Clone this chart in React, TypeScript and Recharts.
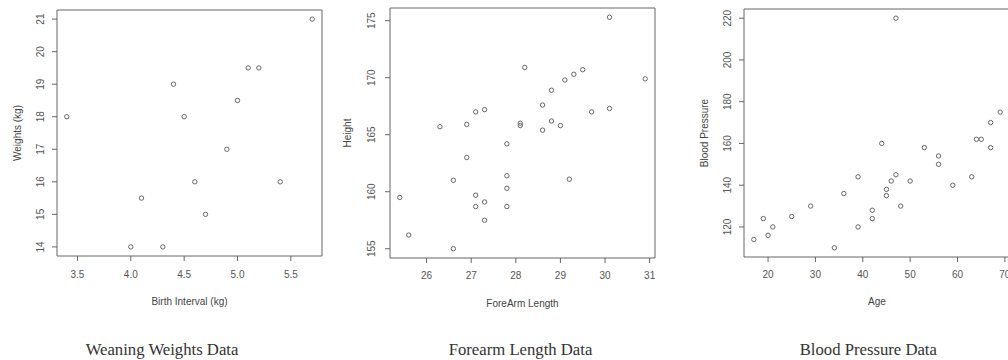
import React from 'react';
import { ScatterChart, Scatter, XAxis, YAxis, ReferenceArea } from 'recharts';

// ---------- Weaning weights ----------
const weaningBirthInterval = [3.4, 4.0, 4.1, 4.3, 4.4, 4.5, 4.6, 4.7, 4.9, 5.0, 5.1, 5.2, 5.4, 5.7];
const weaningWeights = [18, 14, 15.5, 14, 19, 18, 16, 15, 17, 18.5, 19.5, 19.5, 16, 21];
const weaningXTicks = [3.5, 4.0, 4.5, 5.0, 5.5];
const weaningYTicks = [14, 15, 16, 17, 18, 19, 20, 21];

// ---------- Forearm length ----------
const forearmLength = [30.1, 30.9, 28.2, 29.5, 29.3, 29.1, 28.8, 28.6, 27.1, 27.3, 29.7, 30.1, 26.3, 26.9, 28.1, 28.1, 28.8, 29.0, 28.6, 27.8, 26.9, 26.6, 27.8, 29.2, 27.8, 25.4, 27.1, 27.3, 27.1, 27.8, 27.3, 25.6, 26.6];
const forearmHeight = [175.3, 169.9, 170.9, 170.7, 170.3, 169.8, 168.9, 167.6, 167.0, 167.2, 167.0, 167.3, 165.7, 165.9, 165.8, 166.0, 166.2, 165.8, 165.4, 164.2, 163.0, 161.0, 161.4, 161.1, 160.3, 159.5, 159.7, 159.1, 158.7, 158.7, 157.5, 156.2, 155.0];
const forearmXTicks = [26, 27, 28, 29, 30, 31];
const forearmYTicks = [155, 160, 165, 170, 175];

// ---------- Blood pressure ----------
const bpAge = [39, 47, 45, 47, 65, 46, 67, 42, 67, 56, 64, 56, 59, 34, 42, 48, 45, 17, 20, 19, 36, 50, 39, 21, 44, 53, 63, 29, 25, 69];
const bpPressure = [144, 220, 138, 145, 162, 142, 170, 124, 158, 154, 162, 150, 140, 110, 128, 130, 135, 114, 116, 124, 136, 142, 120, 120, 160, 158, 144, 130, 125, 175];
const bpXTicks = [20, 30, 40, 50, 60, 70];
const bpYTicks = [120, 140, 160, 180, 200, 220];

const panelTitles = ['Weaning Weights Data', 'Forearm Length Data', 'Blood Pressure Data'];

const padded = (v: number[]): [number, number] => {
  const lo = Math.min(...v);
  const hi = Math.max(...v);
  const r = hi - lo;
  return [lo - 0.04 * r, hi + 0.04 * r];
};

const zip = (xs: number[], ys: number[]) => xs.map((x, i) => ({ x, y: ys[i] }));

const INK = '#666';
const TEXT = '#555';

const RotTick = (props: any) => {
  const { x, y, payload } = props;
  return (
    <text
      x={x}
      y={y}
      transform={`rotate(-90 ${x} ${y})`}
      textAnchor="middle"
      fontSize={10}
      fill={TEXT}
    >
      {payload.value}
    </text>
  );
};

const OpenCircle = (props: any) => {
  const { cx, cy } = props;
  if (cx == null || cy == null) return null;
  return <circle cx={cx} cy={cy} r={2.2} fill="none" stroke={INK} strokeWidth={1} />;
};

type PanelProps = {
  xs: number[];
  ys: number[];
  xTicks: number[];
  yTicks: number[];
  xLabel: string;
  yLabel: string;
  xFmt?: (v: number) => string;
  left: number;
  width: number;
  mTop: number;
  mRight: number;
  yAxisWidth: number;
  xAxisHeight: number;
  yTickMargin: number;
  xTickMargin: number;
  yLabelOffset: number;
  xLabelOffset: number;
};

const Panel = (p: PanelProps) => {
  const data = zip(p.xs, p.ys);
  const xd = padded(p.xs);
  const yd = padded(p.ys);
  return (
    <div style={{ position: 'absolute', left: p.left, top: 0 }}>
      <ScatterChart
        width={p.width}
        height={320}
        margin={{ top: p.mTop, right: p.mRight, bottom: 0, left: 0 }}
      >
        <XAxis
          type="number"
          dataKey="x"
          domain={xd}
          ticks={p.xTicks}
          interval={0}
          axisLine={false}
          tickLine={{ stroke: INK }}
          tickSize={5}
          tickMargin={p.xTickMargin}
          height={p.xAxisHeight}
          tickFormatter={p.xFmt}
          tick={{ fontSize: 10, fill: TEXT }}
          label={{
            value: p.xLabel,
            position: 'insideBottom',
            offset: p.xLabelOffset,
            style: { fontSize: 10, fill: '#444', textAnchor: 'middle' },
          }}
        />
        <YAxis
          type="number"
          dataKey="y"
          domain={yd}
          ticks={p.yTicks}
          interval={0}
          axisLine={false}
          tickLine={{ stroke: INK }}
          tickSize={5}
          tickMargin={p.yTickMargin}
          width={p.yAxisWidth}
          tick={<RotTick />}
          label={{
            value: p.yLabel,
            angle: -90,
            position: 'insideLeft',
            offset: p.yLabelOffset,
            style: { fontSize: 10, fill: '#444', textAnchor: 'middle' },
          }}
        />
        <ReferenceArea
          x1={xd[0]}
          x2={xd[1]}
          y1={yd[0]}
          y2={yd[1]}
          fill="none"
          fillOpacity={0}
          stroke={INK}
          strokeWidth={1}
          ifOverflow="visible"
        />
        <Scatter data={data} isAnimationActive={false} shape={<OpenCircle />} />
      </ScatterChart>
    </div>
  );
};

export default function App() {
  return (
    <div
      style={{
        position: 'absolute',
        left: 0,
        top: 0,
        width: 1008,
        height: 360,
        overflow: 'hidden',
        background: '#fff',
        fontFamily: '"Liberation Sans", Arial, sans-serif',
      }}
    >
      <Panel
        xs={weaningBirthInterval}
        ys={weaningWeights}
        xTicks={weaningXTicks}
        yTicks={weaningYTicks}
        xLabel="Birth Interval (kg)"
        yLabel="Weights (kg)"
        xFmt={(v: number) => v.toFixed(1)}
        left={0}
        width={330}
        mTop={10}
        mRight={8}
        yAxisWidth={57}
        xAxisHeight={64}
        yTickMargin={8}
        xTickMargin={10}
        yLabelOffset={17}
        xLabelOffset={15.5}
      />
      <Panel
        xs={forearmLength}
        ys={forearmHeight}
        xTicks={forearmXTicks}
        yTicks={forearmYTicks}
        xLabel="ForeArm Length"
        yLabel="Height"
        left={330}
        width={333}
        mTop={8}
        mRight={8}
        yAxisWidth={60}
        xAxisHeight={62}
        yTickMargin={10}
        xTickMargin={9}
        yLabelOffset={17.5}
        xLabelOffset={13.5}
      />
      <Panel
        xs={bpAge}
        ys={bpPressure}
        xTicks={bpXTicks}
        yTicks={bpYTicks}
        xLabel="Age"
        yLabel="Blood Pressure"
        left={670}
        width={350}
        mTop={9}
        mRight={10}
        yAxisWidth={74}
        xAxisHeight={63}
        yTickMargin={8}
        xTickMargin={9}
        yLabelOffset={34}
        xLabelOffset={15}
      />
      <svg
        width={1008}
        height={360}
        style={{ position: 'absolute', left: 0, top: 0, pointerEvents: 'none' }}
      >
        {panelTitles.map((t, i) => (
          <text
            key={t}
            x={[162, 520.5, 868.3][i]}
            y={355}
            textAnchor="middle"
            fontSize={16.7}
            fill="#333"
            style={{ fontFamily: '"Liberation Serif", "Times New Roman", serif' }}
          >
            {t}
          </text>
        ))}
      </svg>
    </div>
  );
}
